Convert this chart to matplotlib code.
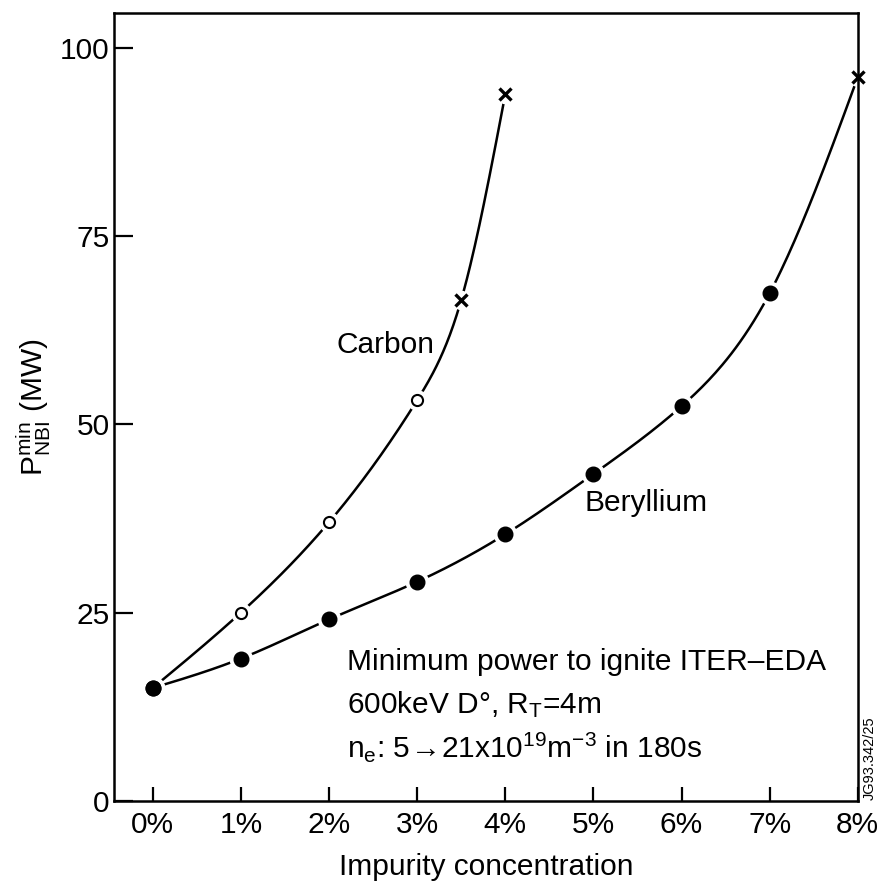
import numpy as np
import matplotlib
matplotlib.use("Agg")
import matplotlib.pyplot as plt

plt.rcParams['font.family'] = ['Liberation Sans', 'DejaVu Sans']
plt.rcParams['mathtext.fontset'] = 'custom'
plt.rcParams['mathtext.rm'] = 'Liberation Sans'
plt.rcParams['mathtext.it'] = 'Liberation Sans'

# impurity concentration (%) and minimum NBI power (MW)
carbon_x = [0, 1, 2, 3, 3.5, 4]
carbon_y = [15.0, 25.0, 37.0, 53.2, 66.5, 93.8]
carbon_kind = ['fill', 'open', 'open', 'open', 'x', 'x']

beryl_x = [0, 1, 2, 3, 4, 5, 6, 7, 8]
beryl_y = [15.0, 18.9, 24.1, 29.1, 35.4, 43.4, 52.4, 67.4, 96.1]
beryl_kind = ['fill'] * 8 + ['x']

xticks = [0, 1, 2, 3, 4, 5, 6, 7, 8]
xtick_labels = ['0%', '1%', '2%', '3%', '4%', '5%', '6%', '7%', '8%']
yticks = [0, 25, 50, 75, 100]

FS = 21.5


def spline(x, y, n=40):
    # natural cubic spline through the points, only for drawing the line
    x = np.asarray(x, float)
    y = np.asarray(y, float)
    m = len(x)
    h = np.diff(x)
    A = np.zeros((m, m))
    r = np.zeros(m)
    A[0, 0] = A[-1, -1] = 1
    for i in range(1, m - 1):
        A[i, i - 1] = h[i - 1]
        A[i, i] = 2 * (h[i - 1] + h[i])
        A[i, i + 1] = h[i]
        r[i] = 6 * ((y[i + 1] - y[i]) / h[i] - (y[i] - y[i - 1]) / h[i - 1])
    M = np.linalg.solve(A, r)
    xs, ys = [], []
    for i in range(m - 1):
        t = np.linspace(x[i], x[i + 1], n)
        a = (x[i + 1] - t) / h[i]
        b = (t - x[i]) / h[i]
        s = (a * y[i] + b * y[i + 1]
             + ((a ** 3 - a) * M[i] + (b ** 3 - b) * M[i + 1]) * h[i] ** 2 / 6)
        xs.extend(t)
        ys.extend(s)
    return xs, ys


fig = plt.figure(figsize=(8.78, 8.88), dpi=100)
ax = fig.add_axes([0.1298, 0.098, 0.977 - 0.1298, 0.9854 - 0.098])

for xs, ys, kinds in ((carbon_x, carbon_y, carbon_kind),
                      (beryl_x, beryl_y, beryl_kind)):
    lx, ly = spline(xs, ys)
    ax.plot(lx, ly, color='black', lw=1.8, zorder=2, clip_on=False)
    for xv, yv, k in zip(xs, ys, kinds):
        if k == 'x':
            ax.plot(xv, yv, marker='o', ms=13, color='white', mec='white', zorder=3, clip_on=False)
            ax.plot(xv, yv, marker='x', ms=8, mew=2.4, color='black', zorder=4, clip_on=False)
        elif k == 'open':
            ax.plot(xv, yv, marker='o', ms=14, color='white', mec='white', zorder=3)
            ax.plot(xv, yv, marker='o', ms=8, mfc='white', mec='black', mew=1.5, zorder=4)
        else:
            ax.plot(xv, yv, marker='o', ms=16, color='white', mec='white', zorder=3)
            ax.plot(xv, yv, marker='o', ms=10.5, color='black', zorder=4)

ax.set_xlim(-0.44, 8.0)
ax.set_ylim(0, 104.6)
ax.set_xticks(xticks)
ax.set_xticklabels(xtick_labels)
ax.set_yticks(yticks)
ax.tick_params(axis='x', direction='in', length=10, width=1.6, labelsize=FS, pad=7)
ax.tick_params(axis='y', direction='in', length=14, width=1.6, labelsize=FS, pad=3)
ax.tick_params(top=False, right=False)
for s in ax.spines.values():
    s.set_linewidth(1.8)
    s.set_zorder(5)

ax.set_ylabel(r'P$_\mathregular{NBI}^\mathregular{min}$ (MW)', fontsize=FS, labelpad=5)
ax.set_xlabel('Impurity concentration', fontsize=FS, labelpad=10)

ax.text(2.08, 60.5, 'Carbon', fontsize=FS, ha='left', va='center')
ax.text(4.9, 39.5, 'Beryllium', fontsize=FS, ha='left', va='center')
ax.text(2.2, 18.5, 'Minimum power to ignite ITER\u2013EDA', fontsize=FS, ha='left', va='center')
ax.text(2.2, 12.8, r'600keV D°, R$_\mathregular{T}$=4m', fontsize=FS, ha='left', va='center')
ax.text(2.2, 7.1, r'n$_\mathregular{e}$: 5$\!\rightarrow\!$21x10$^\mathregular{19}$m$^\mathregular{-3}$ in 180s',
        fontsize=FS, ha='left', va='center')

fig.text(0.991, 0.146, 'JG93.342/25', fontsize=10.5, rotation=90, ha='center', va='center')

fig.savefig('out.png', dpi=100)
